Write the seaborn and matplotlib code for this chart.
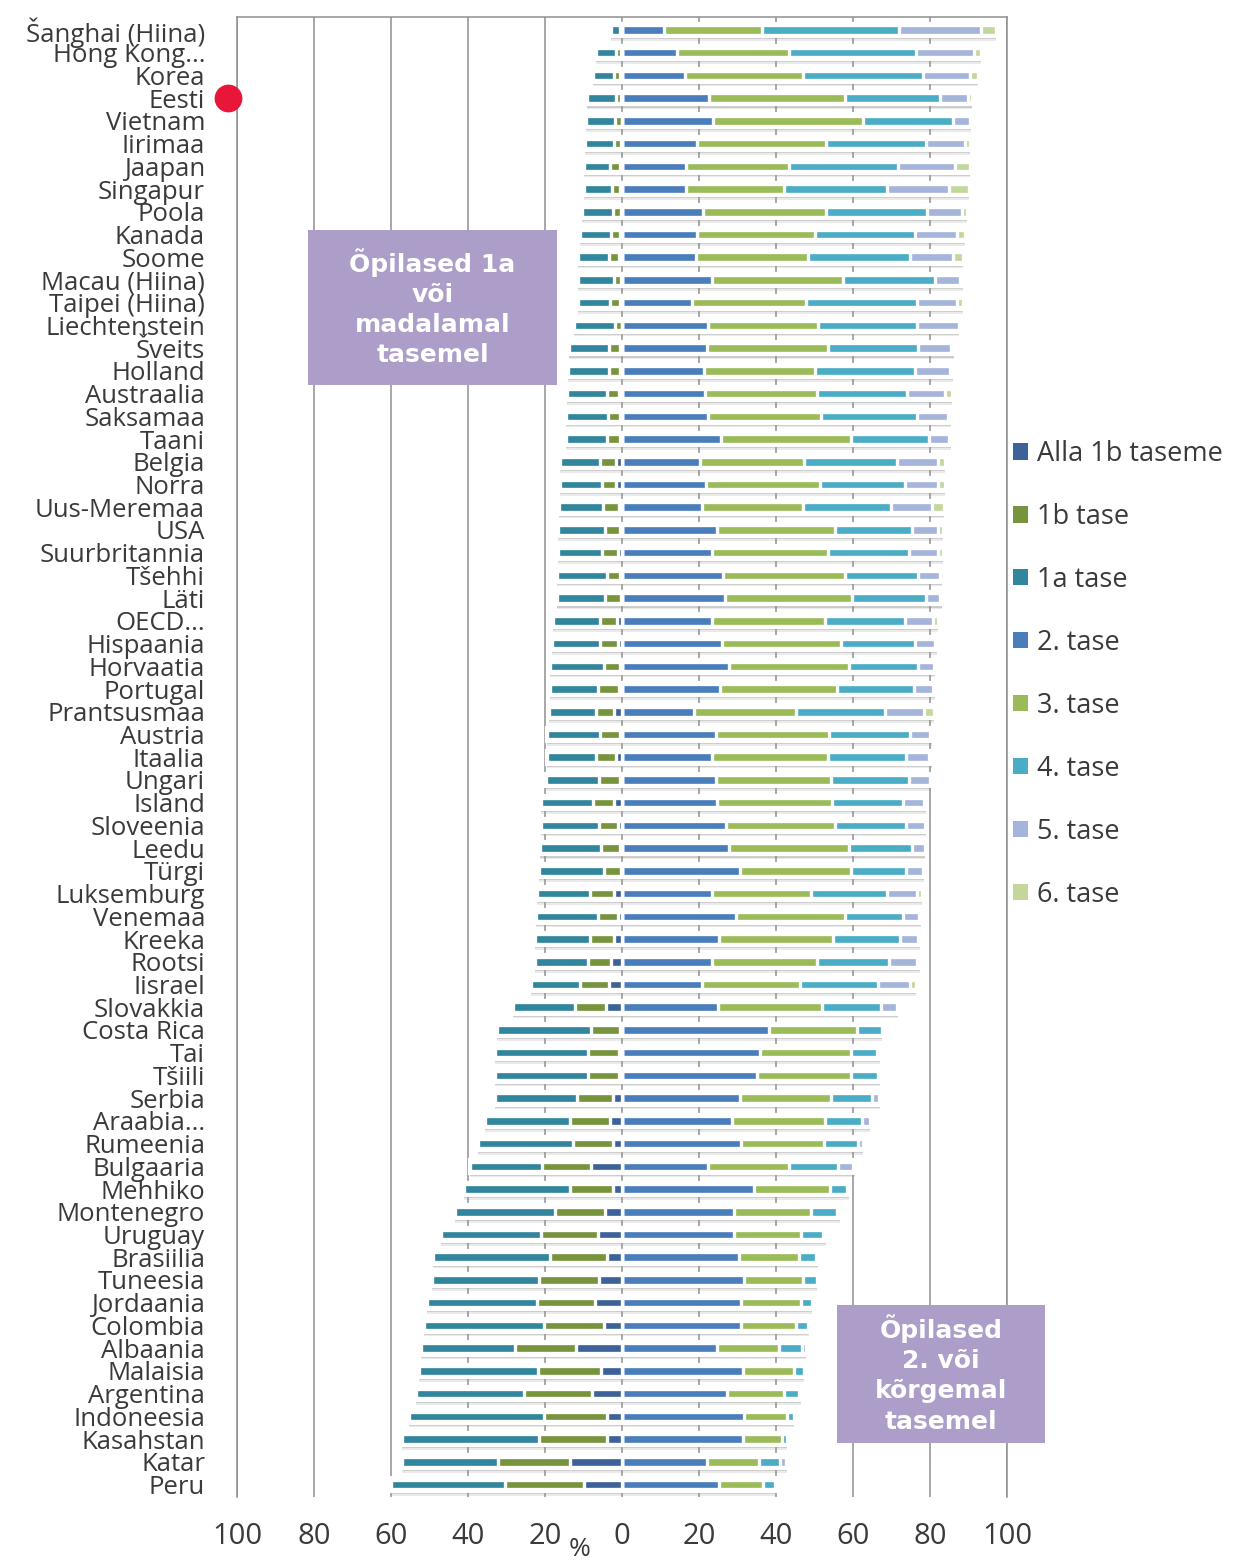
import matplotlib
matplotlib.use("Agg")
import matplotlib.pyplot as plt
import matplotlib.patheffects as pe
from matplotlib.patches import Patch, Rectangle
import numpy as np
import pandas as pd
import seaborn as sns

# PISA 2012 reading: share of students (%) at each proficiency level
countries = [
    "Šanghai (Hiina)", "Hong Kong...", "Korea", "Eesti", "Vietnam", "Iirimaa",
    "Jaapan", "Singapur", "Poola", "Kanada", "Soome", "Macau (Hiina)",
    "Taipei (Hiina)", "Liechtenstein", "Šveits", "Holland", "Austraalia",
    "Saksamaa", "Taani", "Belgia", "Norra", "Uus-Meremaa", "USA",
    "Suurbritannia", "Tšehhi", "Läti", "OECD...", "Hispaania", "Horvaatia",
    "Portugal", "Prantsusmaa", "Austria", "Itaalia", "Ungari", "Island",
    "Sloveenia", "Leedu", "Türgi", "Luksemburg", "Venemaa", "Kreeka",
    "Rootsi", "Iisrael", "Slovakkia", "Costa Rica", "Tai", "Tšiili",
    "Serbia", "Araabia...", "Rumeenia", "Bulgaaria", "Mehhiko", "Montenegro",
    "Uruguay", "Brasiilia", "Tuneesia", "Jordaania", "Colombia", "Albaania",
    "Malaisia", "Argentina", "Indoneesia", "Kasahstan", "Katar", "Peru",
]

below_1b = [0.1, 0.2, 0.4, 0.2, 0.1, 0.3, 0.6, 0.5, 0.3, 0.5, 0.7, 0.3, 0.6,
            0.0, 0.5, 0.4, 0.9, 0.5, 0.4, 1.6, 1.5, 0.9, 0.6, 1.0, 0.4, 0.3,
            1.3, 1.0, 0.5, 0.9, 2.0, 0.6, 1.6, 0.5, 2.0, 1.0, 0.5, 0.3, 2.0,
            1.0, 2.2, 2.8, 3.5, 4.1, 0.6, 0.9, 0.8, 2.3, 3.2, 2.3, 8.0, 2.4,
            4.4, 6.2, 3.9, 5.9, 7.1, 4.7, 12.0, 5.5, 7.9, 4.0, 4.0, 13.4, 9.8]
level_1b = [0.3, 1.3, 1.7, 1.3, 1.6, 1.9, 2.4, 2.0, 2.1, 2.4, 2.6, 1.8, 2.5,
            1.9, 2.9, 3.1, 3.1, 3.1, 3.6, 4.0, 3.6, 4.1, 3.8, 4.2, 3.6, 4.1,
            4.4, 4.7, 4.2, 5.4, 4.8, 5.0, 5.2, 5.4, 5.6, 5.1, 5.0, 4.5, 6.4,
            5.3, 6.2, 6.0, 7.3, 8.0, 7.4, 7.9, 8.0, 9.4, 10.4, 10.5, 12.8, 11.2,
            13.1, 14.9, 14.8, 15.6, 15.1, 15.6, 15.8, 16.4, 17.6, 16.3, 17.5,
            18.8, 20.6]
level_1a = [2.5, 5.3, 5.5, 7.6, 7.7, 7.4, 6.8, 7.4, 8.1, 8.0, 8.0, 9.4, 8.4,
            10.5, 10.3, 10.5, 10.2, 10.9, 10.6, 10.5, 11.1, 11.3, 12.2, 11.4,
            12.9, 12.6, 12.3, 12.6, 14.0, 12.5, 12.1, 13.9, 12.7, 13.8, 13.4,
            15.0, 15.7, 16.8, 13.8, 16.0, 14.2, 13.9, 12.8, 16.1, 24.4, 24.2,
            24.2, 21.4, 21.9, 24.5, 18.6, 27.5, 25.8, 25.9, 30.5, 27.8, 28.5,
            31.1, 24.5, 30.8, 28.1, 34.9, 35.6, 24.9, 29.5]
level_2 = [11.0, 14.3, 16.4, 22.7, 23.7, 19.6, 16.7, 16.7, 21.1, 19.5, 19.1,
           23.4, 18.1, 22.3, 22.0, 21.3, 21.6, 22.3, 25.8, 20.3, 21.9, 20.8,
           24.7, 23.5, 26.3, 26.7, 23.5, 25.9, 27.9, 25.4, 18.7, 24.3, 23.4,
           24.3, 24.7, 27.0, 27.8, 30.7, 23.4, 29.5, 25.2, 23.5, 20.7, 25.0,
           38.3, 35.8, 35.1, 30.7, 28.7, 30.8, 22.4, 34.3, 29.1, 29.1, 30.4,
           31.6, 30.9, 30.9, 24.8, 31.3, 27.2, 31.6, 31.3, 22.1, 25.3]
level_3 = [25.3, 29.2, 30.6, 35.1, 39.0, 33.4, 26.7, 25.4, 32.0, 30.7, 29.1,
           33.9, 29.7, 28.7, 31.4, 28.9, 29.0, 29.5, 33.6, 27.0, 29.4, 26.3,
           30.6, 29.9, 31.5, 33.0, 29.1, 31.0, 31.0, 30.4, 26.4, 29.5, 30.0,
           29.9, 29.9, 28.3, 31.1, 28.8, 25.6, 28.3, 29.7, 27.1, 25.5, 27.0,
           22.8, 23.7, 24.4, 23.6, 24.0, 21.6, 21.0, 19.6, 20.1, 17.3, 15.5,
           15.5, 15.5, 14.3, 15.9, 13.5, 14.9, 11.3, 10.3, 13.5, 11.2]
level_4 = [35.7, 32.9, 31.2, 24.7, 23.4, 25.9, 28.4, 26.7, 26.0, 25.9, 26.7,
           24.0, 28.7, 25.5, 23.5, 25.9, 23.5, 24.7, 20.3, 24.1, 22.1, 22.7,
           20.0, 21.2, 19.2, 19.2, 21.0, 19.2, 18.1, 20.1, 23.1, 21.1, 20.3,
           20.4, 18.4, 18.4, 16.4, 14.2, 19.9, 15.2, 17.3, 18.8, 20.4, 15.4,
           6.4, 6.8, 6.9, 10.6, 9.6, 8.8, 12.8, 4.5, 6.7, 5.7, 4.4, 3.6, 2.9,
           3.0, 6.1, 2.4, 3.8, 1.9, 1.3, 5.4, 3.3]
level_5 = [21.3, 14.9, 12.3, 7.3, 4.2, 10.1, 14.6, 16.2, 9.1, 10.9, 11.2, 6.6,
           10.5, 11.1, 8.6, 9.1, 9.7, 8.2, 5.3, 10.8, 8.8, 10.7, 6.9, 7.6, 5.6,
           3.8, 7.3, 5.1, 4.0, 4.8, 10.3, 5.1, 6.0, 5.4, 5.4, 4.9, 3.3, 4.4,
           7.7, 4.2, 4.6, 7.1, 8.3, 4.0, 0.1, 0.7, 0.6, 1.9, 2.0, 1.3, 3.9, 0.5,
           0.8, 0.8, 0.5, 0.0, 0.0, 0.4, 0.9, 0.1, 0.5, 0.0, 0.0, 1.7, 0.3]
level_6 = [3.8, 1.9, 1.9, 1.1, 0.3, 1.3, 3.9, 5.0, 1.3, 2.1, 2.6, 0.6, 1.5,
           0.0, 0.8, 0.8, 2.0, 0.8, 0.4, 1.7, 1.6, 3.2, 1.2, 1.2, 0.5, 0.3,
           1.1, 0.5, 0.3, 0.5, 2.6, 0.5, 0.8, 0.3, 0.6, 0.3, 0.2, 0.3, 1.2,
           0.5, 0.6, 0.8, 1.5, 0.4, 0.0, 0.0, 0.0, 0.1, 0.2, 0.2, 0.5, 0.0,
           0.0, 0.1, 0.0, 0.0, 0.0, 0.0, 0.0, 0.0, 0.0, 0.0, 0.0, 0.2, 0.0]

level_names = ["Alla 1b taseme", "1b tase", "1a tase", "2. tase",
               "3. tase", "4. tase", "5. tase", "6. tase"]
level_colors = ["#3C6299", "#77933C", "#31859C", "#4A7EBB",
                "#9BBB59", "#4BACC6", "#A4B4DA", "#C3D69B"]
note_color = "#AC9DC9"
grid_color = "#8F8F8F"
text_color = "#3A3A3A"

W, H = 1238, 1564

sns.set_theme(style="white")
plt.rcParams["font.family"] = ["Open Sans", "DejaVu Sans"]

df = pd.DataFrame({
    "riik": countries,
    "alla_1b": below_1b, "t1b": level_1b, "t1a": level_1a,
    "t2": level_2, "t3": level_3, "t4": level_4, "t5": level_5, "t6": level_6,
})

# Outer ends of each stacked segment: low levels go left of zero,
# level 2 and above go right of zero.
neg_1a = -(df["alla_1b"] + df["t1b"] + df["t1a"])
neg_1b = -(df["alla_1b"] + df["t1b"])
neg_alla = -df["alla_1b"]
pos_6 = df[["t2", "t3", "t4", "t5", "t6"]].sum(axis=1)
pos_5 = df[["t2", "t3", "t4", "t5"]].sum(axis=1)
pos_4 = df[["t2", "t3", "t4"]].sum(axis=1)
pos_3 = df[["t2", "t3"]].sum(axis=1)
pos_2 = df["t2"]

fig = plt.figure(figsize=(W / 100, H / 100), dpi=100)
ax = fig.add_axes([237 / W, 1 - 1497 / H, 770 / W, 1480 / H])


def layer(values, color, width, lw, effects=None):
    n0 = len(ax.patches)
    sns.barplot(x=values, y=df["riik"], orient="h", color=color,
                width=width, saturation=1, edgecolor="white", linewidth=lw,
                errorbar=None, ax=ax)
    if effects:
        for p in ax.patches[n0:]:
            p.set_path_effects(effects)


# white backing strip with a soft, layered shadow under every row
shadow = [pe.SimplePatchShadow(offset=(0, -3.4), shadow_rgbFace="#909090",
                               alpha=0.18),
          pe.SimplePatchShadow(offset=(0, -2.2), shadow_rgbFace="#808080",
                               alpha=0.3),
          pe.Normal()]
layer(pos_6, "white", 0.56, 3.0, shadow)
layer(neg_1a, "white", 0.56, 3.0, shadow)

# stacked segments, outermost first so inner ones sit on top
for vals, col in [(pos_6, level_colors[7]), (pos_5, level_colors[6]),
                  (pos_4, level_colors[5]), (pos_3, level_colors[4]),
                  (pos_2, level_colors[3]),
                  (neg_1a, level_colors[2]), (neg_1b, level_colors[1]),
                  (neg_alla, level_colors[0])]:
    layer(vals, col, 0.42, 2.4)

ax.set_xlim(-100, 100)
ax.set_ylim(len(countries) - 1 + 0.55, -0.57)
ticks = np.arange(-100, 101, 20)
ax.set_xticks(ticks)
ax.set_xticklabels([str(abs(t)) for t in ticks])
ax.set_xlabel("")
ax.set_ylabel("")
ax.xaxis.grid(True, color=grid_color, linewidth=1.1)
ax.yaxis.grid(False)
ax.set_axisbelow(True)
for side in ["left", "top", "right"]:
    ax.spines[side].set_color(grid_color)
    ax.spines[side].set_linewidth(1.1)
ax.spines["bottom"].set_visible(False)

ax.tick_params(axis="x", length=0, pad=18, labelsize=21, labelcolor=text_color)
ax.tick_params(axis="y", length=0, pad=23, labelsize=18.5, labelcolor=text_color)

fig.text(580 / W, 1 - 1549 / H, "%", ha="center", va="center",
         fontsize=19, color=text_color)

# marker next to Estonia
ax.plot([-102.3], [countries.index("Eesti")], "o", ms=20, color="#E8173A",
        mec="none", clip_on=False, zorder=6)


def note(x0, y0, x1, y1, text):
    fig.add_artist(Rectangle((x0 / W, 1 - y1 / H), (x1 - x0) / W, (y1 - y0) / H,
                             transform=fig.transFigure, facecolor=note_color,
                             edgecolor="none", zorder=6))
    fig.text((x0 + x1) / 2 / W, 1 - (y0 + y1) / 2 / H, text, ha="center",
             va="center", color="white", fontsize=18, fontweight="bold",
             family="DejaVu Sans", linespacing=1.32, zorder=7)


note(308, 230, 557, 385, "Õpilased 1a\nvõi\nmadalamal\ntasemel")
note(837, 1305, 1045, 1443, "Õpilased\n2. või\nkõrgemal\ntasemel")

handles = [Patch(facecolor=c, edgecolor="none") for c in level_colors]
fig.legend(handles, level_names, loc="upper left",
           bbox_to_anchor=(1013 / W, 1 - 440 / H), frameon=False,
           fontsize=19.5, handlelength=0.55, handleheight=0.55,
           handletextpad=0.35, labelspacing=1.29, borderpad=0,
           borderaxespad=0, labelcolor=text_color)

fig.savefig("out.png", dpi=100)
